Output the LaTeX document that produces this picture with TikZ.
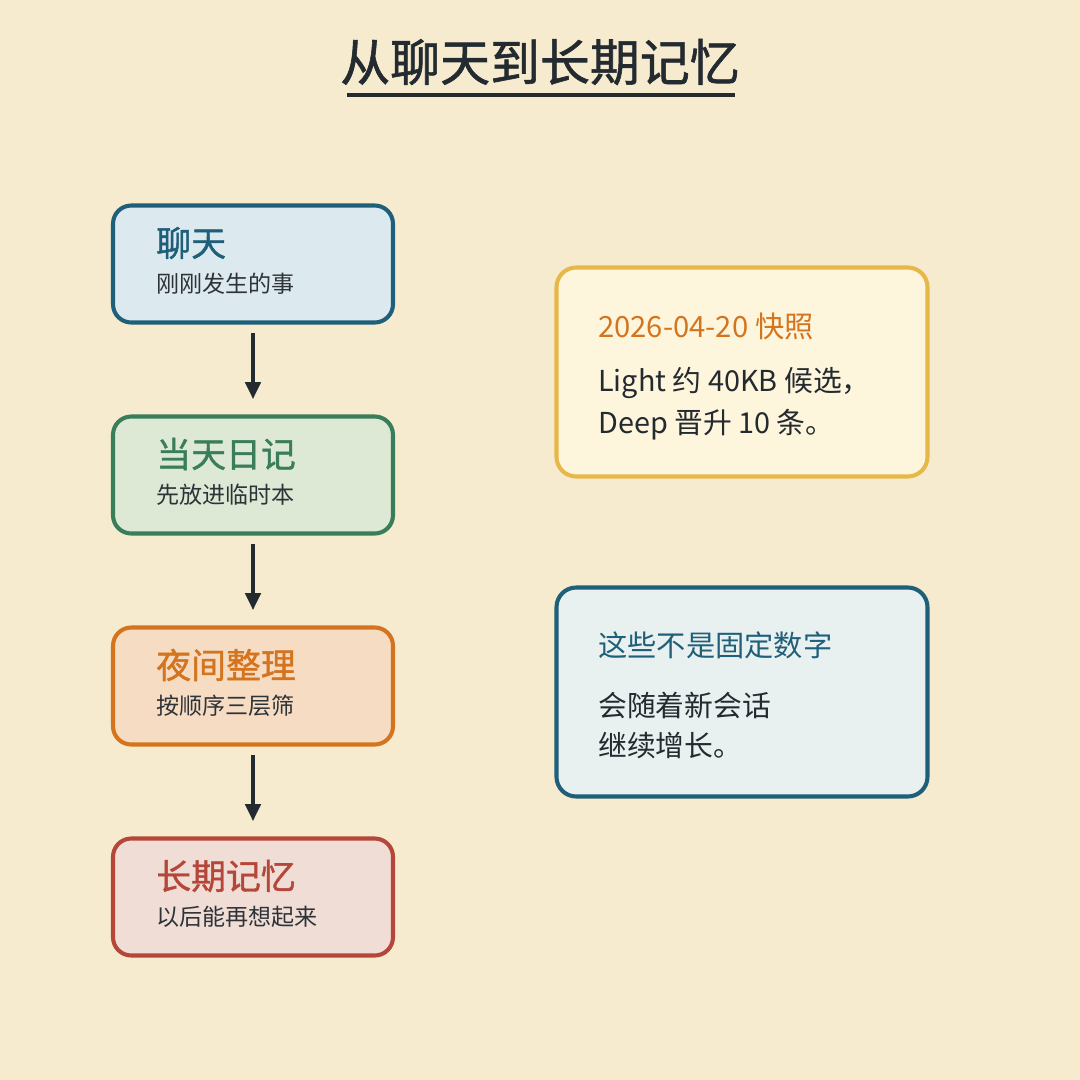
\documentclass[tikz,border=0pt]{standalone}
\usepackage{fontspec}
\setmainfont{Noto Sans CJK SC}
\newfontfamily\medfont[FakeBold=1.2]{Noto Sans CJK SC}
\usetikzlibrary{arrows.meta}
\definecolor{bg}{HTML}{F6EBCF}
\definecolor{ink}{HTML}{232A30}
\definecolor{bluel}{HTML}{1F5F7A}\definecolor{bluef}{HTML}{DCEAF0}
\definecolor{greenl}{HTML}{3A7D5A}\definecolor{greenf}{HTML}{DDE9D5}
\definecolor{orangel}{HTML}{D4741F}\definecolor{orangef}{HTML}{F6DCC3}
\definecolor{redl}{HTML}{B5473A}\definecolor{redf}{HTML}{F0DDD5}
\definecolor{yell}{HTML}{E6B84A}\definecolor{yelf}{HTML}{FEF6DC}
\definecolor{tealf}{HTML}{E8F1F0}
\definecolor{subc}{HTML}{2E3338}
\tikzset{
  stepbox/.style={draw, line width=2.9pt, rounded corners=13pt, minimum width=280*0.025cm, minimum height=117*0.025cm, inner sep=0pt},
  sidebox/.style={draw, line width=2.9pt, rounded corners=14pt, minimum width=371*0.025cm, minimum height=209*0.025cm, inner sep=0pt},
  head/.style={anchor=west, inner sep=0pt, font=\medfont\fontsize{24.8pt}{28pt}\selectfont},
  sub/.style={anchor=west, inner sep=0pt, text=subc, font=\fontsize{16.4pt}{18pt}\selectfont},
  stitle/.style={anchor=west, inner sep=0pt, font=\fontsize{20.8pt}{24pt}\selectfont},
  sbody/.style={anchor=west, inner sep=0pt, text=ink, font=\fontsize{20.5pt}{24pt}\selectfont},
  flow/.style={draw=ink, line width=2.2pt, -{Triangle[length=12pt,width=11pt]}},
}
\begin{document}
\begin{tikzpicture}[x=0.025cm,y=-0.025cm]
\fill[bg] (0,0) rectangle (1080,1080);
\useasboundingbox (0,0) rectangle (1080,1080);
% title
\node[inner sep=0pt, text=ink, font=\medfont\fontsize{35.5pt}{40pt}\selectfont] (title) at (540,62) {从聊天到长期记忆};
\coordinate (ulA) at (347,95);
\coordinate (ulB) at (735,95);
\draw[ink, line width=2.4pt] (ulA) -- (ulB);
% step boxes
\node[stepbox, draw=bluel, fill=bluef] (b1) at (253,264) {};
\node[stepbox, draw=greenl, fill=greenf] (b2) at (253,475) {};
\node[stepbox, draw=orangel, fill=orangef] (b3) at (253,686) {};
\node[stepbox, draw=redl, fill=redf] (b4) at (253,897) {};
\node[head, text=bluel] (h1) at (156,243) {聊天};
\node[sub] (s1) at (156,284) {刚刚发生的事};
\node[head, text=greenl] (h2) at (156,454) {当天日记};
\node[sub] (s2) at (156,495) {先放进临时本};
\node[head, text=orangel] (h3) at (156,665) {夜间整理};
\node[sub] (s3) at (156,706) {按顺序三层筛};
\node[head, text=redl] (h4) at (156,876) {长期记忆};
\node[sub] (s4) at (156,917) {以后能再想起来};
% arrows
\draw[flow, shorten <=6pt, shorten >=11pt] (b1.south) -- (b2.north);
\draw[flow, shorten <=6pt, shorten >=11pt] (b2.south) -- (b3.north);
\draw[flow, shorten <=6pt, shorten >=11pt] (b3.south) -- (b4.north);
% side boxes
\node[sidebox, draw=yell, fill=yelf] (r1) at (742,372) {};
\node[stitle, text=orangel] (t1) at (598,326) {2026-04-20 快照};
\node[sbody] (l1) at (598,383) {Light 约 40KB 候选，};
\node[sbody] (l2) at (598,425) {Deep 晋升 10 条。};
\node[sidebox, draw=bluel, fill=tealf] (r2) at (742,692) {};
\node[stitle, text=bluel] (t2) at (598,645) {这些不是固定数字};
\node[sbody] (l3) at (598,705) {会随着新会话};
\node[sbody] (l4) at (598,746) {继续增长。};
\end{tikzpicture}
\end{document}
